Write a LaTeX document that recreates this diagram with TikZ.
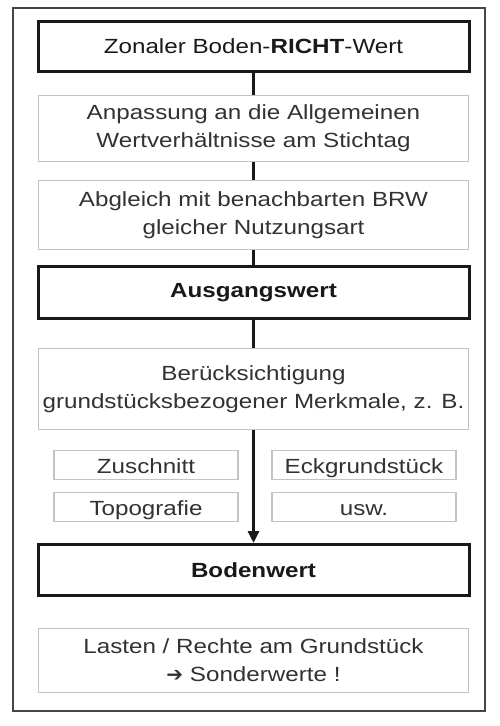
\documentclass[tikz,border=0pt]{standalone}
\usepackage{fontspec}
\setmainfont{Liberation Sans}[FakeStretch=1.18]
\newfontfamily\arrowfont{DejaVu Sans}
\usetikzlibrary{arrows.meta}
\definecolor{textgray}{RGB}{50,50,50}
\definecolor{framegray}{RGB}{70,70,70}
\definecolor{linegray}{RGB}{195,195,195}
\tikzset{
  strongbox/.style={draw=black!90, line width=3pt, minimum width=431pt, text=black!90},
  weakbox/.style={draw=linegray, line width=1.5pt, minimum width=430pt, align=center, text=textgray},
  itembox/.style={draw=linegray, line width=1.5pt, minimum width=184pt, minimum height=29pt, inner sep=0pt, text height=16pt, text depth=0pt, text=textgray},
  link/.style={line width=3pt, black!90}
}
\begin{document}
\begin{tikzpicture}[x=1pt, y=-1pt, font=\fontsize{20.5}{28}\selectfont]
      %\draw [help lines] (0,0) grid (499,726);
      \useasboundingbox (0,0) rectangle (499,726);
      \draw[framegray, line width=2pt, fill=white] (13,8) rectangle (485,711);

      \node[strongbox, minimum height=50pt] (richtwert) at (253.5,46) {Zonaler Boden-\textbf{RICHT}-Wert};
      \node[weakbox, minimum height=66pt] (anpassung) at (253.5,128.5) {Anpassung an die Allgemeinen\\Wertverhältnisse am Stichtag};
      \node[weakbox, minimum height=69pt] (abgleich) at (253.5,215) {Abgleich mit benachbarten BRW\\gleicher Nutzungsart};
      \node[strongbox, minimum height=52pt] (ausgangswert) at (253.5,292.5) {\textbf{Ausgangswert}};
      \node[weakbox, minimum height=81pt] (merkmale) at (253.5,389) {Berücksichtigung\\grundstücksbezogener Merkmale, z. B.};
      \node[itembox] (zuschnitt) at (146,465) {Zuschnitt};
      \node[itembox] (eckgrundstueck) at (364,465) {Eckgrundstück};
      \node[itembox] (topografie) at (146,507) {Topografie};
      \node[itembox] (usw) at (364,507) {usw.};
      \node[strongbox, minimum height=51pt] (bodenwert) at (253.5,570) {\textbf{Bodenwert}};
      \node[weakbox, minimum height=64pt] (lasten) at (253.5,660.5) {Lasten / Rechte am Grundstück\\{\arrowfont\fontsize{20}{28}\selectfont ➔} Sonderwerte !};

      \draw[link] (richtwert) to (anpassung);
      \draw[link] (anpassung) to (abgleich);
      \draw[link] (abgleich) to (ausgangswert);
      \draw[link] (ausgangswert) to (merkmale);
      \draw[link, -{Triangle[length=12pt, width=11pt]}] (merkmale) to (bodenwert);
    \end{tikzpicture}
\end{document}
